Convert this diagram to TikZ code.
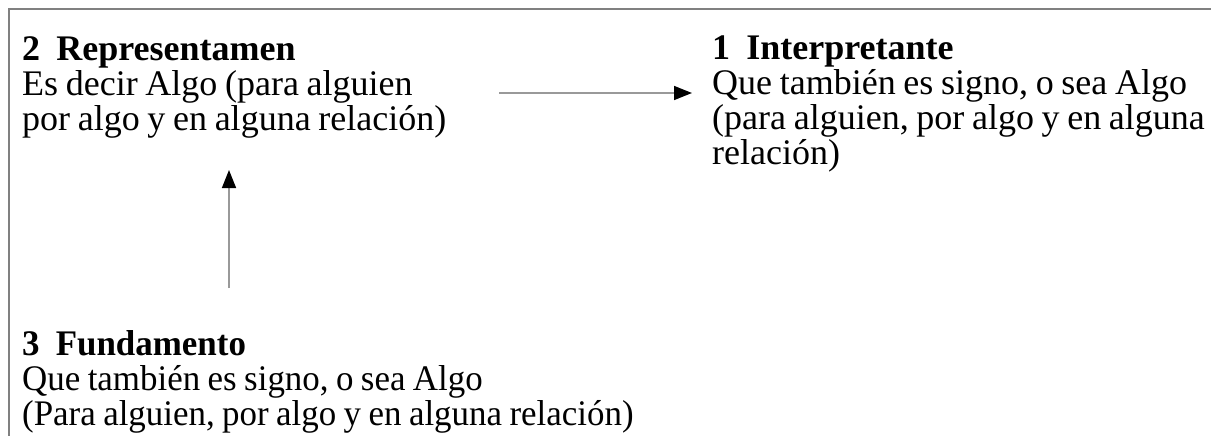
\documentclass[tikz,border=0pt]{standalone}
\usepackage{fontspec}
\setmainfont[WordSpace=0.85]{Liberation Serif}
\newfontfamily\estrecha[FakeStretch=0.97,WordSpace=0.85]{Liberation Serif}
\usetikzlibrary{arrows.meta}

\tikzset{
  bloque/.style={anchor=north west, align=left, inner sep=0pt,
    font=\fontsize{36}{35}\selectfont},
  flecha/.style={draw=gray!80, line width=1.5pt,
    -{Triangle[length=18pt,width=14pt,color=black]}},
  marco/.style={draw=gray, line width=1.5pt}
}

\begin{document}
\begin{tikzpicture}[x=1pt, y=-1pt]
                \useasboundingbox (0,0) rectangle (1211,436);
                \draw[marco] (9,436) -- (9,9) -- (1211,9);

                \node[bloque] (repr) at (22,36) {\textbf{2\hspace{.45em}Representamen}\\Es decir Algo (para alguien\\por algo y en alguna relación)};
                \node[bloque] (inter) at (712,36) {\textbf{1\hspace{.45em}Interpretante}\\Que también es signo, o sea Algo\\(para alguien, por algo y en alguna\\relación)};
                \node[bloque, font=\fontsize{36}{35}\estrecha] (fund) at (22,330) {\textbf{3\hspace{.45em}Fundamento}\\Que también es signo, o sea Algo\\(Para alguien, por algo y en alguna relación)};

                \coordinate (h1) at (499,93);
                \coordinate (h2) at (692,93);
                \coordinate (v1) at (229,288);
                \coordinate (v2) at (229,170);

                \draw[flecha] (h1) -- (h2);
                \draw[flecha] (v1) -- (v2);
            \end{tikzpicture}
\end{document}
